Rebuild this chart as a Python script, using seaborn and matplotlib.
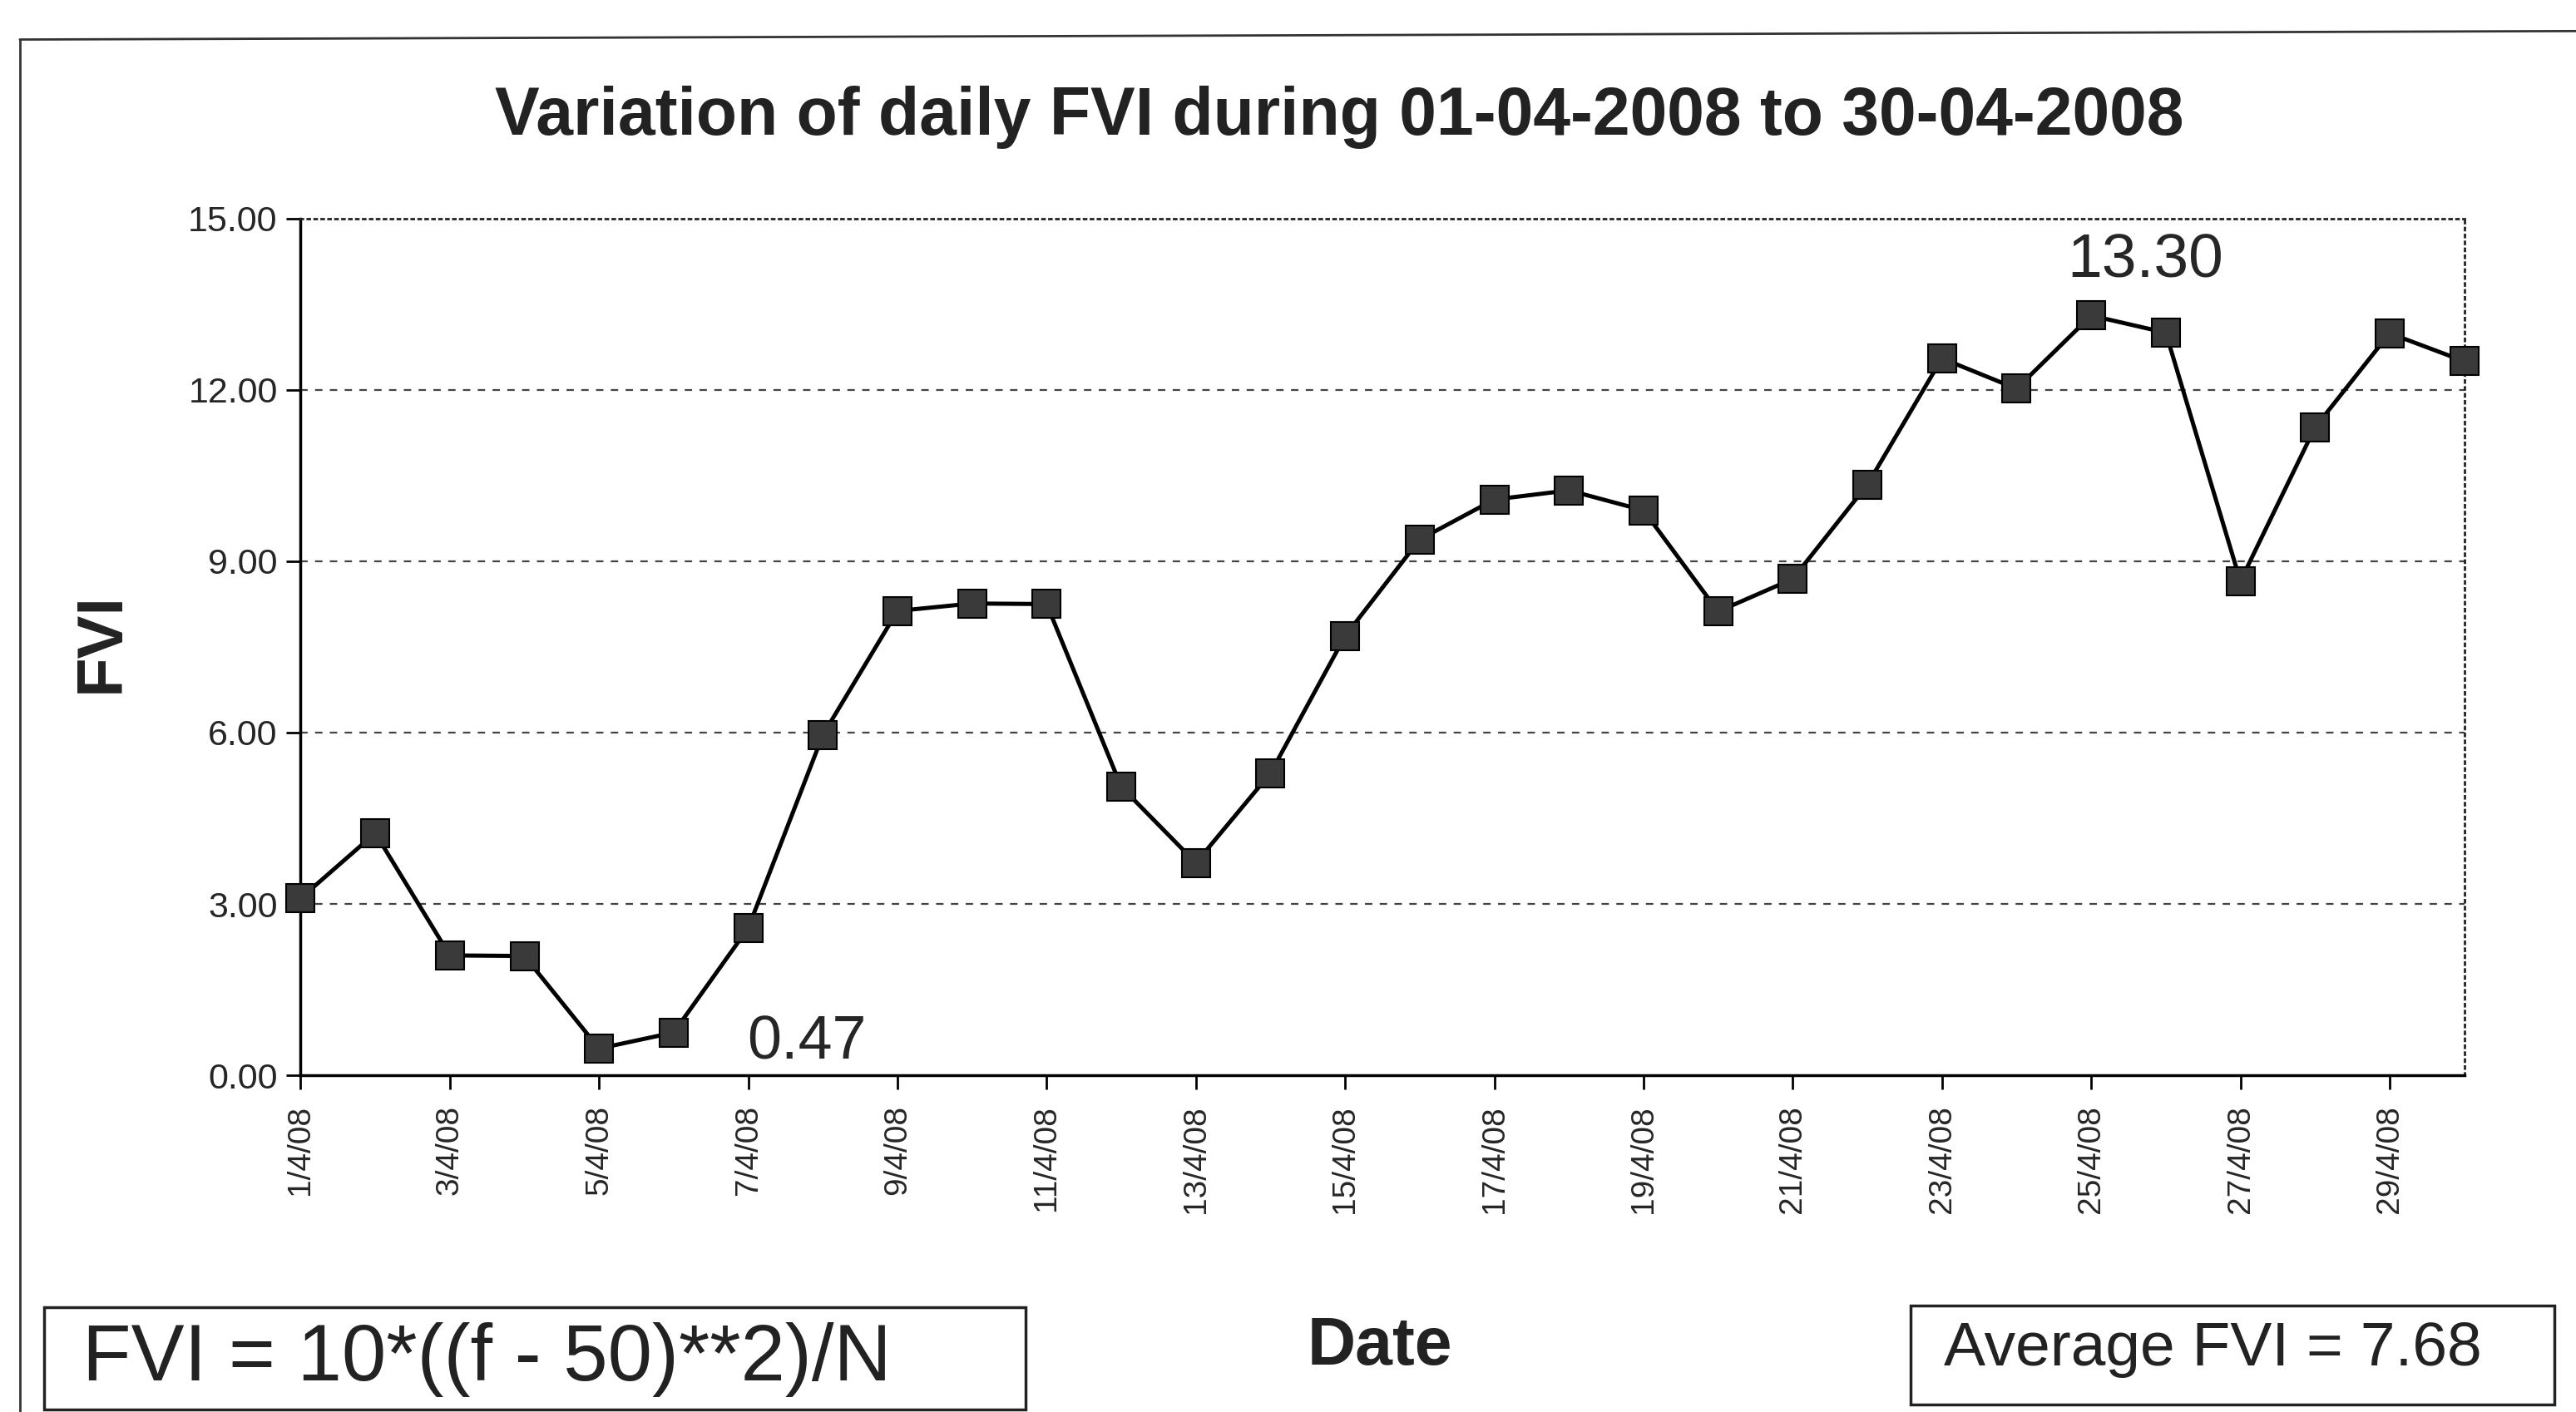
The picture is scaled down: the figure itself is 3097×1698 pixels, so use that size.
import matplotlib
matplotlib.use("Agg")
import matplotlib.pyplot as plt
from matplotlib.patches import Rectangle
from matplotlib.lines import Line2D
import seaborn as sns
import pandas as pd

# daily FVI values, 1 to 30 April 2008
dates = [f"{d}/4/08" for d in range(1, 31)]
fvi = [3.10, 4.24, 2.10, 2.09, 0.47, 0.75, 2.58, 5.96, 8.13, 8.26,
       8.25, 5.05, 3.72, 5.29, 7.69, 9.38, 10.08, 10.24, 9.89, 8.12,
       8.69, 10.34, 12.55, 12.02, 13.30, 13.00, 8.65, 11.34, 12.99, 12.50]
y_ticks = [0, 3, 6, 9, 12, 15]
title = "Variation of daily FVI during 01-04-2008 to 30-04-2008"
formula = "FVI = 10*((f - 50)**2)/N"
average_text = "Average FVI = 7.68"

df = pd.DataFrame({"pos": range(len(dates)), "date": dates, "fvi": fvi})

sns.set_style("white")
plt.rcParams["font.family"] = ["Liberation Sans", "DejaVu Sans"]

fig = plt.figure(figsize=(30.97, 16.98), dpi=100)
ax = fig.add_axes([0.1167, 0.2384, 0.9566 - 0.1167, 0.8453 - 0.2384])

sns.lineplot(data=df, x="pos", y="fvi", ax=ax, color="black", linewidth=3.6,
             marker="s", markersize=25, markerfacecolor="#3a3a3a",
             markeredgecolor="black", markeredgewidth=1.5, clip_on=False,
             zorder=3)

ax.set_xlim(0, len(dates) - 1)
ax.set_ylim(0, 15)
ax.set_yticks(y_ticks)
ax.set_yticklabels([f"{v:.2f}" for v in y_ticks], fontsize=31)
ax.set_xticks(df["pos"][::2])
ax.set_xticklabels(df["date"][::2], rotation=90, fontsize=28)
ax.tick_params(axis="both", direction="out", length=12, width=2, color="black",
               left=True, bottom=True)
ax.tick_params(axis="x", pad=14)
ax.tick_params(axis="y", pad=8)

for v in y_ticks[1:-1]:
    ax.axhline(v, color="#444444", linewidth=1.6, linestyle=(0, (4, 4)), zorder=1)

for side in ["left", "bottom"]:
    ax.spines[side].set_color("black")
    ax.spines[side].set_linewidth(2.5)
for side in ["top", "right"]:
    ax.spines[side].set_color("#222222")
    ax.spines[side].set_linewidth(2)
    ax.spines[side].set_linestyle((0, (1, 2)))

ax.set_xlabel("")
ax.set_ylabel("")

# min / max annotations
imin = fvi.index(min(fvi))
imax = fvi.index(max(fvi))
ax.annotate(f"{fvi[imin]:.2f}", xy=(imin, fvi[imin]), xytext=(128, -9),
            textcoords="offset points", ha="left", va="baseline", fontsize=53)
ax.annotate(f"{fvi[imax]:.2f}", xy=(imax, fvi[imax]), xytext=(47, 33),
            textcoords="offset points", ha="center", va="baseline", fontsize=54)

fig.text(0.520, 0.917, title, ha="center", va="center", fontsize=58,
         fontweight="bold", color="#222222")
fig.text(0.0395, 0.545, "FVI", rotation=90, ha="center", va="center",
         fontsize=56, fontweight="bold", color="#222222")
fig.text(0.5357, 0.046, "Date", ha="center", va="center", fontsize=58,
         fontweight="bold", color="#222222")

# outer frame (left and top edges of the scanned chart area)
fig.add_artist(Line2D([0.0077, 0.0077], [0.0, 0.972], color="#333333", lw=2))
fig.add_artist(Line2D([0.0077, 1.0], [0.972, 0.978], color="#333333", lw=2))

# text boxes
fig.add_artist(Rectangle((0.0171, 0.0018), 0.398 - 0.0171, 0.0742 - 0.0018,
                         fill=False, edgecolor="#222222", lw=2.5))
fig.text(0.032, 0.037, formula, ha="left", va="center", fontsize=69,
         color="#222222")
fig.add_artist(Rectangle((0.7417, 0.0053), 0.9916 - 0.7417, 0.0754 - 0.0053,
                         fill=False, edgecolor="#222222", lw=2.5))
fig.text(0.7545, 0.0445, average_text, ha="left", va="center", fontsize=54,
         color="#222222")

fig.savefig("out.png", dpi=100)
plt.close(fig)
